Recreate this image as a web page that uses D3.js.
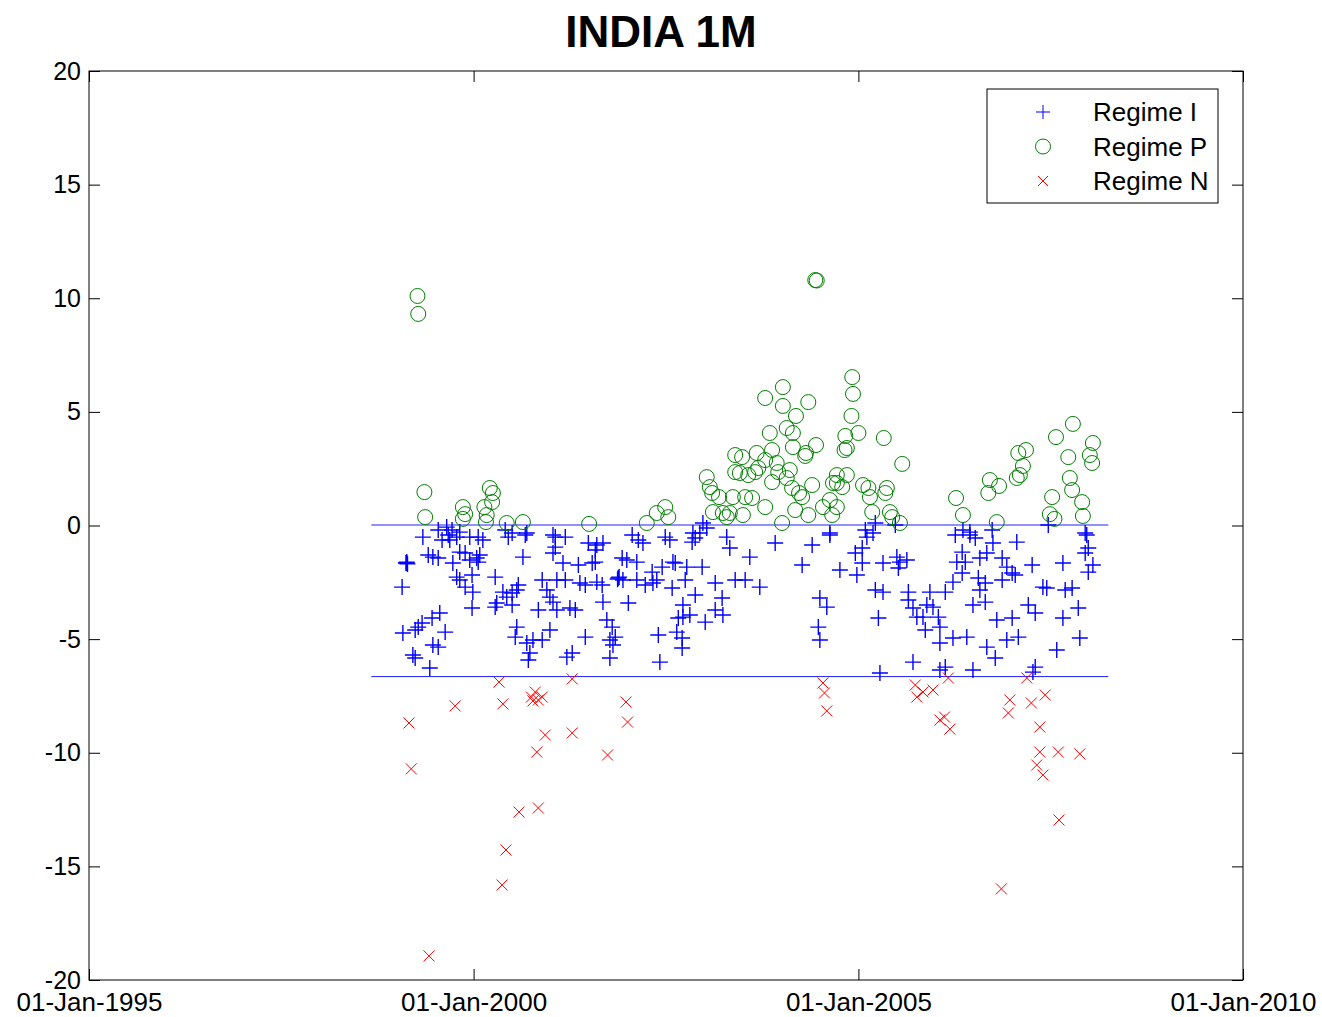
<!DOCTYPE html>
<html>
<head>
<meta charset="utf-8">
<script src="https://cdn.jsdelivr.net/npm/d3@7"></script>
<style>
  body { margin: 0; background: #fff; }
  text { font-family: "Liberation Sans", Arial, sans-serif; }
</style>
</head>
<body>
<div id="chart"></div>
<script>
// data: [decimal year, value]
const regimeI = [
  [1999.34,-0.51],[1999.59,-0.64],[1999.67,-0.42],[1999.69,-0.64],[1999.78,-0.51],[1999.95,-0.51],
  [2000.06,-0.51],[2000.12,-0.64],[2000.45,-0.51],[2000.67,-0.42],[2001.06,-0.51],
  [1999.13,-1.65],[1999.12,-1.65],[1999.14,-1.69],[1999.13,-1.61],[1999.07,-2.71],
  [1999.41,-1.30],[1999.47,-1.39],[1999.54,-1.43],[1999.73,-1.65],[1999.82,-1.17],[1999.89,-1.21],
  [1999.95,-1.52],[2000.04,-1.43],[2000.06,-1.61],[2000.08,-1.30],[2000.28,-2.27],[1999.78,-2.27],
  [1999.82,-2.40],[1999.89,-2.71],[1999.98,-2.18],[1999.99,-2.93],[1999.98,-3.63],[2000.30,-3.41],
  [2000.38,-2.93],[2000.43,-3.15],[2000.50,-2.97],[2000.56,-2.84],[2000.58,-2.62],[2000.50,-3.50],
  [2000.28,-3.59],[2000.64,-1.39],[2000.89,-2.40],[2000.95,-2.84],[2000.99,-3.15],[2001.03,-3.37],
  [2001.08,-3.72],[2000.84,-3.72],[2001.08,-2.40],[2000.56,-4.47],[2000.54,-4.91],[2000.69,-5.17],
  [2000.77,-5.04],[2000.89,-5.04],[2000.73,-5.61],[2000.71,-5.92],[2000.99,-4.60],
  [1999.08,-4.73],[1999.24,-4.60],[1999.28,-4.47],[1999.33,-4.29],[1999.46,-4.07],[1999.56,-3.85],
  [1999.63,-4.69],[1999.47,-5.26],[1999.54,-5.35],[1999.21,-5.70],[1999.24,-5.83],[1999.43,-6.27],
  [2001.06,-0.95],[2001.03,-1.21],[1999.54,-0.20],[1999.65,-0.07],[1999.72,-0.20],[1999.82,-0.29],
  [2000.41,-0.20],[2000.50,-0.33],[2000.69,-0.33],[2001.03,-0.42],
  [2001.19,-0.51],[2001.49,-0.77],[2001.60,-0.86],[2001.68,-0.77],[2001.58,-1.08],[2002.06,-0.42],
  [2002.14,-0.64],[2002.20,-0.77],[2002.49,-0.51],[2002.55,-0.64],[2002.84,-0.73],[2002.88,-0.55],
  [2002.94,-0.33],[2003.29,-0.51],[2003.33,-0.99],[2001.16,-1.65],[2001.36,-1.74],[2001.54,-1.65],
  [2001.58,-1.61],[2001.19,-2.40],[2001.38,-2.53],[2001.45,-2.62],[2001.60,-2.49],[2001.67,-2.62],
  [2001.88,-2.31],[2001.87,-2.36],[2001.89,-2.27],[2001.94,-2.40],[2001.93,-1.43],[2001.99,-1.52],
  [2002.12,-1.61],[2002.12,-2.40],[2002.23,-2.62],[2002.32,-2.05],[2002.33,-2.53],[2002.38,-2.40],
  [2002.45,-1.83],[2002.59,-1.61],[2002.62,-1.65],[2002.58,-2.75],[2002.75,-2.40],[2002.77,-1.83],
  [2002.97,-1.83],[2003.14,-2.53],[2002.88,-3.06],[2001.68,-3.37],[2002.01,-3.41],[2001.25,-3.63],
  [2001.32,-3.72],[2002.72,-3.50],[2002.66,-4.07],[2002.72,-4.03],[2002.81,-3.94],[2003.01,-4.25],
  [2003.14,-3.72],[2003.23,-3.19],[2003.24,-3.94],[2003.40,-2.40],[2001.73,-4.16],[2001.80,-4.47],
  [2001.77,-5.04],[2001.84,-4.91],[2001.81,-5.26],[2001.45,-4.91],[2001.77,-5.83],[2002.40,-4.82],
  [2002.64,-4.69],[2002.71,-4.95],[2002.71,-5.39],[2002.42,-6.01],[2001.28,-5.61],[2001.21,-5.79],
  [2002.85,-0.33],[2002.98,0.11],[2003.03,-0.11],
  [2003.92,-0.77],[2004.40,-0.86],[2004.63,-0.42],[2005.11,-0.51],[2005.19,-0.33],[2003.59,-1.39],
  [2003.53,-2.40],[2003.72,-2.71],[2004.27,-1.74],[2004.76,-1.96],[2004.96,-1.21],[2005.05,-0.99],
  [2005.05,-1.65],[2004.98,-2.18],[2005.32,-1.65],[2005.50,-1.39],[2005.54,-1.61],[2005.63,-1.52],
  [2005.52,-1.87],[2005.22,-2.84],[2005.32,-2.93],[2005.26,-4.07],[2005.65,-2.93],[2005.65,-3.28],
  [2005.71,-3.63],[2005.76,-4.03],[2004.50,-3.19],[2004.59,-3.59],[2004.48,-4.47],[2004.50,-5.04],
  [2005.28,-6.49],[2005.71,-6.01],[2004.63,-0.33],[2005.09,-0.20],[2005.22,0.11],[2005.48,0.02],
  [2006.26,-0.42],[2006.45,-0.42],[2006.52,-0.55],[2006.75,-0.77],[2007.06,-0.73],[2007.97,-0.42],
  [2007.99,-0.99],[2007.95,-1.21],[2006.35,-1.17],[2006.28,-1.61],[2006.39,-1.61],[2006.58,-1.43],
  [2006.67,-1.21],[2006.87,-1.43],[2006.35,-2.09],[2006.93,-1.83],[2007.00,-2.09],[2007.04,-2.18],
  [2006.87,-2.40],[2007.26,-1.74],[2007.66,-1.65],[2008.05,-1.74],[2007.99,-2.05],[2006.23,-2.49],
  [2006.56,-2.31],[2006.65,-2.53],[2006.58,-2.84],[2006.65,-3.37],[2006.49,-3.50],[2006.13,-2.93],
  [2005.93,-2.93],[2005.89,-3.50],[2005.97,-3.59],[2005.84,-4.03],[2006.04,-4.03],[2005.87,-4.60],
  [2006.06,-4.47],[2006.06,-5.17],[2006.23,-4.95],[2006.41,-4.91],[2006.67,-5.35],[2006.78,-5.83],
  [2006.93,-5.04],[2007.08,-4.91],[2006.80,-4.16],[2007.00,-4.07],[2007.21,-3.50],[2007.30,-3.85],
  [2007.40,-2.71],[2007.45,-2.75],[2007.69,-2.84],[2007.78,-2.75],[2007.86,-3.63],[2007.66,-4.07],
  [2007.58,-5.48],[2007.88,-4.95],[2006.13,-6.23],[2006.06,-6.36],[2006.49,-6.36],[2007.30,-6.23],
  [2007.27,-6.45],[2006.36,-0.20],[2006.45,-0.29],[2006.74,-0.20],[2007.47,0.02],[2007.95,-0.33]
];

const regimeP = [
  [1999.27,10.10],[1999.28,9.31],[1999.36,1.47],[1999.37,0.37],[1999.86,0.81],[1999.89,0.50],
  [1999.86,0.29],[2000.21,1.65],[2000.25,1.43],[2000.24,1.03],[2000.14,0.81],[2000.17,0.46],
  [2000.16,0.15],[2000.43,0.11],[2000.64,0.15],[2001.50,0.07],[2002.25,0.11],[2002.38,0.55],
  [2002.49,0.81],[2002.53,0.37],[2003.03,2.13],[2003.07,1.69],[2003.10,1.43],[2003.19,1.25],
  [2003.11,0.59],[2003.24,0.55],[2003.33,0.55],[2003.29,0.37],[2003.40,3.10],[2003.40,2.35],
  [2003.37,1.25],
  [2004.92,6.53],[2004.93,5.79],[2004.02,6.09],[2003.79,5.61],[2004.02,5.26],[2004.35,5.43],
  [2004.19,4.82],[2003.85,4.07],[2004.07,4.29],[2004.15,4.07],[2004.15,3.45],[2004.32,3.19],
  [2004.31,3.06],[2004.45,3.54],[2004.91,4.82],[2004.83,3.94],[2005.00,4.07],[2004.85,3.41],
  [2004.82,3.32],[2005.33,3.85],[2005.57,2.71],[2003.68,3.19],[2003.88,3.32],[2003.79,2.88],
  [2003.70,2.53],[2003.66,2.35],[2003.94,2.75],[2003.96,2.35],[2004.11,2.44],[2004.07,2.09],
  [2003.88,1.91],[2003.57,2.22],[2003.49,3.01],[2003.46,2.31],[2004.14,1.65],[2004.23,1.43],
  [2004.27,1.25],[2004.40,1.78],[2004.72,2.22],[2004.85,2.22],[2004.72,1.87],[2004.79,1.69],
  [2004.67,1.87],[2005.06,1.78],[2005.13,1.65],[2005.15,1.25],[2005.37,1.65],[2005.35,1.43],
  [2003.53,1.25],[2003.62,1.21],[2003.79,0.81],[2003.50,0.46],[2004.18,0.68],[2004.35,0.46],
  [2004.54,0.81],[2004.63,1.12],[2004.72,0.81],[2004.66,0.46],[2005.18,0.59],[2005.41,0.59],
  [2005.44,0.37],[2005.54,0.11],[2004.01,0.11],[2004.44,10.80],[2004.46,10.78],
  [2007.79,4.47],[2007.57,3.89],[2007.73,3.01],[2008.05,3.63],[2008.01,3.10],[2008.04,2.75],
  [2007.08,3.19],[2007.18,3.32],[2007.14,2.62],[2007.10,2.22],[2007.06,2.09],[2006.71,2.00],
  [2006.83,1.74],[2006.69,1.43],[2006.27,1.21],[2006.36,0.46],[2006.80,0.15],[2007.52,1.25],
  [2007.49,0.50],[2007.55,0.29],[2007.75,2.09],[2007.78,1.56],[2007.91,1.03],[2007.92,0.42]
];

const regimeN = [
  [1999.16,-8.69],[1999.19,-10.71],[1999.42,-18.94],[1999.76,-7.94],[2000.33,-6.89],[2000.38,-7.85],
  [2000.42,-14.28],[2000.37,-15.82],[2000.59,-12.61],[2000.75,-7.55],[2000.80,-7.33],[2000.84,-7.68],
  [2000.77,-7.72],[2000.89,-7.55],[2000.82,-9.97],[2000.84,-12.43],[2000.93,-9.22],[2001.28,-6.75],
  [2001.28,-9.13],[2001.74,-10.10],[2001.98,-7.77],[2002.00,-8.65],[2004.54,-6.93],[2004.56,-7.37],
  [2004.59,-8.16],[2005.74,-7.02],[2005.76,-7.55],[2005.84,-7.33],[2005.97,-7.24],[2006.06,-8.56],
  [2006.12,-8.43],[2006.19,-8.96],[2006.17,-6.71],[2006.86,-15.99],[2006.95,-8.25],[2006.97,-7.68],
  [2007.19,-6.71],[2007.25,-7.81],[2007.43,-7.46],[2007.36,-8.87],[2007.36,-9.97],[2007.32,-10.54],
  [2007.40,-10.98],[2007.60,-9.97],[2007.61,-12.96],[2007.88,-10.05]
];

// regime thresholds, drawn over the sample period
const thresholds = [0, -6.67];
const thresholdSpan = [1998.67, 2008.25];

const xTicks = [1995, 2000, 2005, 2010];
const yTicks = [-20, -15, -10, -5, 0, 5, 10, 15, 20];
const legendLabels = ["Regime I", "Regime P", "Regime N"];

const width = 1322, height = 1017;
const margin = { top: 71, right: 79, bottom: 37, left: 89 };
const plotW = width - margin.left - margin.right;
const plotH = height - margin.top - margin.bottom;

const toDate = y => {
  const yr = Math.floor(y);
  const start = new Date(yr, 0, 1), end = new Date(yr + 1, 0, 1);
  return new Date(+start + (y - yr) * (end - start));
};

const x = d3.scaleTime()
  .domain([new Date(1995, 0, 1), new Date(2010, 0, 1)])
  .range([0, plotW]);
const y = d3.scaleLinear().domain([-20, 20]).range([plotH, 0]);

const svg = d3.select('#chart').append('svg')
  .attr('width', width)
  .attr('height', height);

svg.append('rect').attr('width', width).attr('height', height).attr('fill', '#fff');

svg.append('text')
  .attr('x', width / 2)
  .attr('y', 47)
  .attr('text-anchor', 'middle')
  .style('font-size', '44px')
  .style('font-weight', 'bold')
  .text('INDIA 1M');

const g = svg.append('g').attr('transform', `translate(${margin.left},${margin.top})`);

const fmt = d3.timeFormat('%d-%b-%Y');
const tickDates = xTicks.map(t => new Date(t, 0, 1));

const xAxis = g.append('g')
  .attr('transform', `translate(0,${plotH})`)
  .call(d3.axisBottom(x).tickValues(tickDates).tickFormat(fmt).tickSizeInner(-11).tickSizeOuter(0).tickPadding(13));
xAxis.select('.domain').remove();
xAxis.selectAll('text').style('font-size', '26px').attr('fill', '#000');

const xTop = g.append('g')
  .call(d3.axisTop(x).tickValues(tickDates).tickFormat('').tickSizeInner(-11).tickSizeOuter(0));
xTop.select('.domain').remove();

const yAxis = g.append('g')
  .call(d3.axisLeft(y).tickValues(yTicks).tickFormat(d => String(d)).tickSizeInner(-11).tickSizeOuter(0).tickPadding(8));
yAxis.select('.domain').remove();
yAxis.selectAll('text').style('font-size', '25px').attr('fill', '#000');

const yRight = g.append('g')
  .attr('transform', `translate(${plotW},0)`)
  .call(d3.axisRight(y).tickValues(yTicks).tickFormat('').tickSizeInner(-11).tickSizeOuter(0));
yRight.select('.domain').remove();

g.selectAll('.tick line').attr('stroke', '#000');

g.append('rect')
  .attr('width', plotW).attr('height', plotH)
  .attr('fill', 'none').attr('stroke', '#000').attr('stroke-width', 1);

// threshold lines
g.selectAll('.thr')
  .data(thresholds)
  .enter().append('line')
  .attr('class', 'thr')
  .attr('x1', x(toDate(thresholdSpan[0])))
  .attr('x2', x(toDate(thresholdSpan[1])))
  .attr('y1', d => y(d) - 0.5).attr('y2', d => y(d) - 0.5)
  .attr('stroke', '#2020ff').attr('stroke-width', 1);

const plusPath = s => `M${-s},0H${s}M0,${-s}V${s}`;
const crossPath = s => `M${-s},${-s}L${s},${s}M${-s},${s}L${s},${-s}`;

g.selectAll('.mI')
  .data(regimeI)
  .enter().append('path')
  .attr('transform', d => `translate(${x(toDate(d[0]))},${y(d[1])})`)
  .attr('d', plusPath(8))
  .attr('stroke', '#0000ff').attr('stroke-width', 1.4).attr('fill', 'none');

g.selectAll('.mP')
  .data(regimeP)
  .enter().append('circle')
  .attr('cx', d => x(toDate(d[0])))
  .attr('cy', d => y(d[1]))
  .attr('r', 7.5)
  .attr('stroke', '#008000').attr('stroke-width', 1).attr('fill', 'none');

g.selectAll('.mN')
  .data(regimeN)
  .enter().append('path')
  .attr('transform', d => `translate(${x(toDate(d[0]))},${y(d[1])})`)
  .attr('d', crossPath(5.5))
  .attr('stroke', '#ff0000').attr('stroke-width', 1).attr('fill', 'none');

// legend
const legend = svg.append('g').attr('transform', 'translate(987,89)');
legend.append('rect')
  .attr('width', 231).attr('height', 114)
  .attr('fill', '#fff').attr('stroke', '#000').attr('stroke-width', 1);

const rows = legend.selectAll('.row')
  .data(legendLabels)
  .enter().append('g')
  .attr('transform', (d, i) => `translate(0,${23 + i * 34.5})`);

rows.append('text')
  .attr('x', 106).attr('y', 9)
  .style('font-size', '26px')
  .text(d => d);

rows.filter((d, i) => i === 0).append('path')
  .attr('transform', 'translate(56,0)').attr('d', plusPath(7))
  .attr('stroke', '#0000ff').attr('fill', 'none');
rows.filter((d, i) => i === 1).append('circle')
  .attr('cx', 56).attr('r', 7.5)
  .attr('stroke', '#008000').attr('fill', 'none');
rows.filter((d, i) => i === 2).append('path')
  .attr('transform', 'translate(56,0)').attr('d', crossPath(5))
  .attr('stroke', '#ff0000').attr('fill', 'none');
</script>
</body>
</html>
